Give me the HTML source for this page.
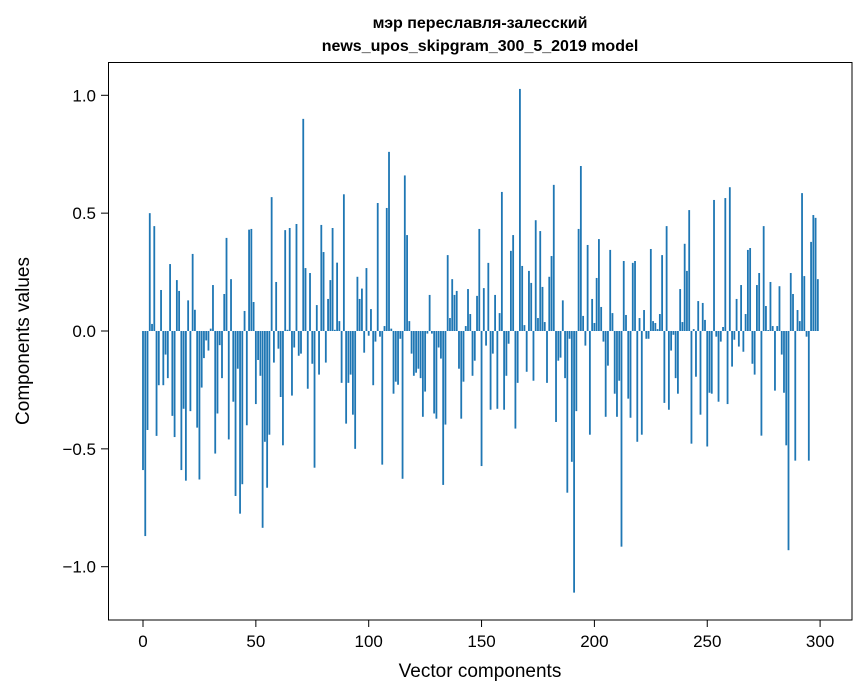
<!DOCTYPE html>
<html><head><meta charset="utf-8"><style>
html,body{margin:0;padding:0;background:#fff;}
svg{display:block;font-family:"Liberation Sans","DejaVu Sans",sans-serif;}
</style></head><body>
<svg id="chart" width="867" height="696" viewBox="0 0 867 696" xmlns="http://www.w3.org/2000/svg">
<rect width="867" height="696" fill="#fff"/>
<text x="480" y="28" text-anchor="middle" font-size="16" font-weight="bold" font-family="Liberation Sans, Noto Sans CJK SC, sans-serif">мэр переславля-залесский</text>
<text x="480" y="51" text-anchor="middle" font-size="16" font-weight="bold">news_upos_skipgram_300_5_2019 model</text>
<g id="bars"></g>
<g id="xticks"></g>
<g id="yticks"></g>
<rect x="108.5" y="62.5" width="743.5" height="557.5" fill="none" stroke="#000" stroke-width="1"/>
<text x="480" y="677" text-anchor="middle" font-size="19">Vector components</text>
<text transform="translate(29,341) rotate(-90)" text-anchor="middle" font-size="19">Components values</text>
</svg>
<script>
const values = [
-0.59,-0.87,-0.42,0.50,0.03,0.445,-0.445,-0.23,0.174,-0.23,
-0.10,-0.20,0.284,-0.36,-0.45,0.216,0.17,-0.59,-0.33,-0.635,
0.13,-0.34,0.327,0.09,-0.41,-0.63,-0.24,-0.115,-0.04,-0.083,
0.01,0.195,-0.52,-0.35,-0.06,-0.20,0.157,0.395,-0.46,0.22,
-0.30,-0.70,-0.16,-0.775,-0.65,0.085,-0.40,0.43,0.433,0.123,
-0.31,-0.123,-0.19,-0.835,-0.47,-0.665,-0.44,0.568,-0.134,0.208,
-0.075,-0.28,-0.485,0.428,0.005,0.437,-0.274,-0.07,0.454,-0.105,
-0.096,0.90,0.267,-0.245,0.246,-0.139,-0.58,0.11,-0.185,0.45,
0.335,-0.134,0.136,0.216,0.437,0.005,0.29,0.042,-0.22,0.58,
-0.393,-0.22,-0.185,-0.355,-0.50,0.23,0.136,0.18,-0.092,0.267,
-0.02,0.093,-0.23,-0.045,0.543,-0.024,-0.567,0.021,0.522,0.76,
0.01,-0.266,-0.215,-0.228,-0.033,-0.627,0.66,0.407,0.042,-0.096,
-0.19,-0.177,-0.16,-0.20,-0.364,-0.257,-0.011,0.153,-0.011,-0.35,
-0.372,-0.07,-0.117,-0.653,-0.397,0.322,0.055,0.22,0.153,0.17,
-0.16,-0.372,-0.215,0.021,0.178,0.072,-0.19,-0.126,0.149,0.433,
-0.573,0.182,-0.062,0.289,-0.334,-0.096,0.153,-0.33,0.076,0.59,
-0.334,-0.19,-0.054,0.34,0.407,-0.414,-0.22,1.027,0.276,0.025,
-0.173,0.255,0.204,-0.211,0.47,0.055,0.424,0.187,0.038,-0.22,
0.23,0.318,0.62,-0.386,-0.126,-0.113,0.13,-0.20,-0.686,-0.033,
-0.555,-1.11,-0.34,0.433,0.70,0.064,-0.062,0.365,-0.44,0.136,
0.034,0.225,0.39,0.102,-0.045,-0.364,-0.147,0.344,0.076,-0.266,
-0.364,-0.211,-0.915,0.297,0.068,-0.287,-0.368,0.289,0.297,-0.47,
0.055,-0.44,0.089,-0.033,-0.033,0.348,0.042,0.034,0.008,0.072,
0.322,-0.305,0.445,-0.334,-0.083,-0.016,-0.20,-0.266,0.178,0.038,
0.37,0.255,0.513,-0.478,0.008,-0.194,0.127,-0.355,0.119,0.047,
-0.49,-0.262,-0.266,0.556,-0.024,-0.30,-0.045,0.017,0.564,-0.31,
0.61,-0.151,-0.037,0.136,-0.066,0.195,-0.088,0.072,0.344,0.352,
-0.139,-0.185,0.195,0.246,-0.444,0.445,0.106,0.004,0.208,0.021,
-0.253,0.021,0.19,-0.10,-0.262,-0.485,-0.93,0.246,0.157,-0.55,
0.089,0.042,0.585,0.233,-0.024,-0.55,0.378,0.492,0.48,0.22
];
const xTicks = [0,50,100,150,200,250,300];
const yTicks = [-1.0,-0.5,0.0,0.5,1.0];
const yTickLabels = ["\u22121.0","\u22120.5","0.0","0.5","1.0"];

const X0 = 143, XS = 2.257, Y0 = 331, YS = 235.7;
function xScale(v){ return X0 + v*XS; }
function yScale(v){ return Y0 - v*YS; }
const NS = "http://www.w3.org/2000/svg";
const barsG = document.getElementById('bars');
values.forEach(function(v,i){
  const r = document.createElementNS(NS,'rect');
  const bw = 0.8*XS;
  r.setAttribute('x', xScale(i) - bw/2);
  const y1 = yScale(Math.max(v,0)), y2 = yScale(Math.min(v,0));
  r.setAttribute('y', y1);
  r.setAttribute('width', bw);
  r.setAttribute('height', Math.max(y2-y1, 0.3));
  r.setAttribute('fill', '#1f77b4');
  
  
  barsG.appendChild(r);
});
const xg = document.getElementById('xticks');
xTicks.forEach(function(t){
  const x = xScale(t);
  const l = document.createElementNS(NS,'line');
  l.setAttribute('x1',x); l.setAttribute('x2',x);
  l.setAttribute('y1',620); l.setAttribute('y2',627);
  l.setAttribute('stroke','#000');
  
  
  xg.appendChild(l);
  const tx = document.createElementNS(NS,'text');
  tx.setAttribute('x',x); tx.setAttribute('y',647);
  tx.setAttribute('text-anchor','middle'); tx.setAttribute('font-size','17');
  tx.textContent = String(t);
  
  
  xg.appendChild(tx);
});
const yg = document.getElementById('yticks');
yTicks.forEach(function(t,i){
  const y = yScale(t);
  const l = document.createElementNS(NS,'line');
  l.setAttribute('x1',101); l.setAttribute('x2',108);
  l.setAttribute('y1',y); l.setAttribute('y2',y);
  l.setAttribute('stroke','#000');
  
  
  yg.appendChild(l);
  const tx = document.createElementNS(NS,'text');
  tx.setAttribute('x',96); tx.setAttribute('y',y+6);
  tx.setAttribute('text-anchor','end'); tx.setAttribute('font-size','17');
  tx.textContent = yTickLabels[i];
  
  
  yg.appendChild(tx);
});
</script>
</body></html>
